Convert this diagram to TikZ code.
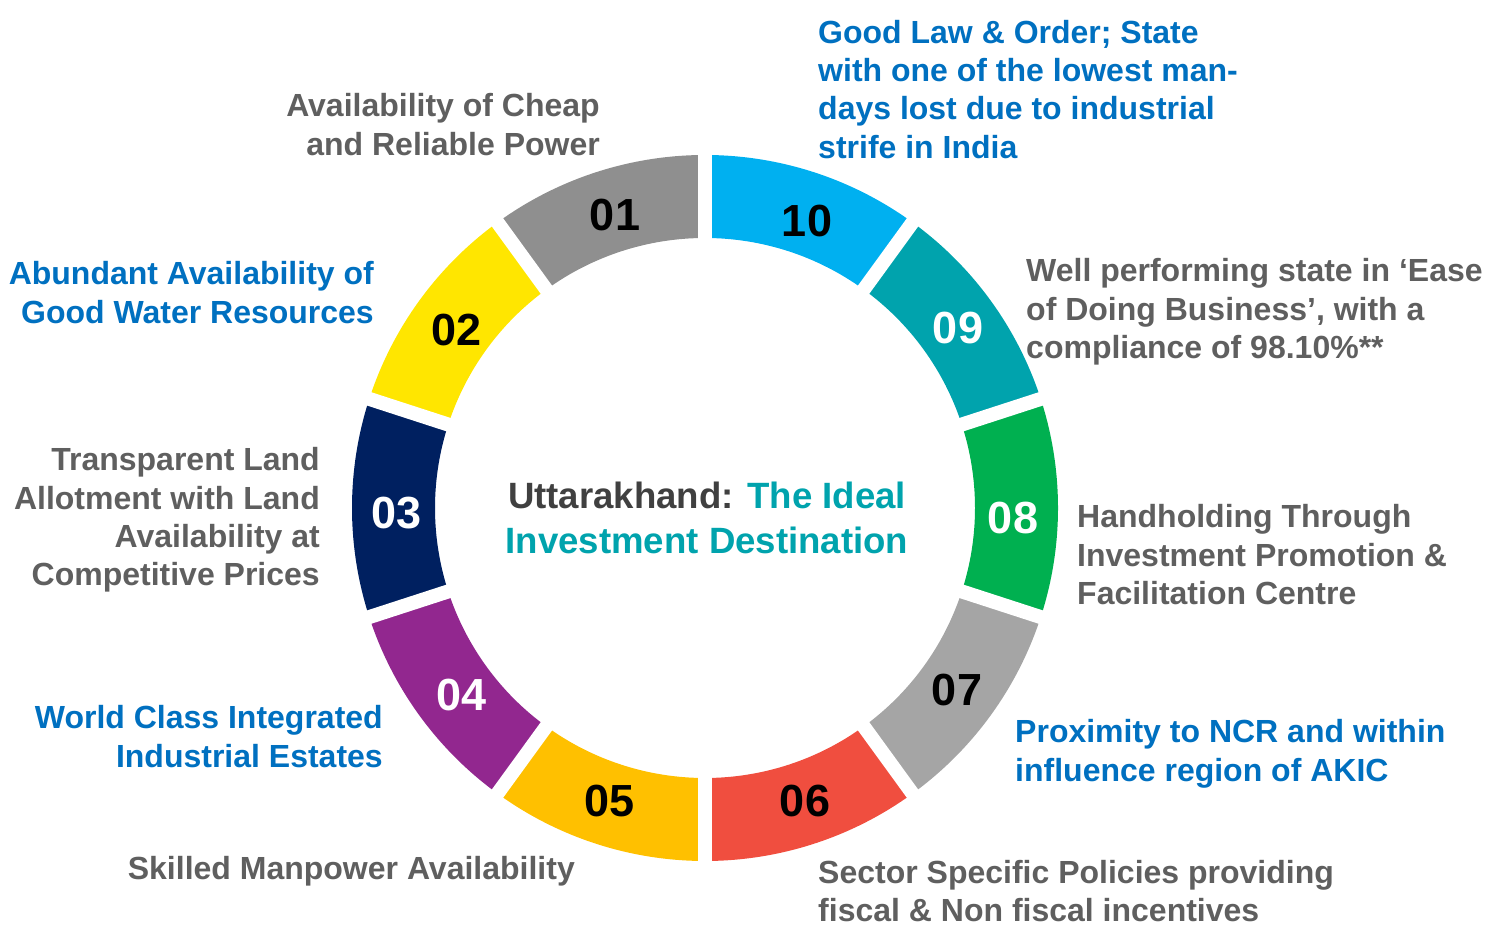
\documentclass[tikz,border=0pt]{standalone}
\usepackage{fontspec}
\setmainfont{Liberation Sans}
\definecolor{c01}{HTML}{8F8F8F}
\definecolor{c02}{HTML}{FFE600}
\definecolor{c03}{HTML}{002060}
\definecolor{c04}{HTML}{92278F}
\definecolor{c05}{HTML}{FFC000}
\definecolor{c06}{HTML}{F04E3F}
\definecolor{c07}{HTML}{A5A5A5}
\definecolor{c08}{HTML}{00B050}
\definecolor{c09}{HTML}{00A3AD}
\definecolor{c10}{HTML}{00B0F0}
\definecolor{labgray}{HTML}{5F5F5F}
\definecolor{labblue}{HTML}{0070C0}
\definecolor{cdark}{HTML}{404040}
\definecolor{cteal}{HTML}{00A3AD}
\newcommand\ringseg[3]{\fill[#3] (#1:353) arc[start angle=#1,end angle=#2,radius=353] -- (#2:270) arc[start angle=#2,end angle=#1,radius=270] -- cycle;}
\begin{document}
\begin{tikzpicture}[x=1pt,y=1pt,
  num/.style={font=\fontsize{45}{45}\selectfont\bfseries, inner sep=0pt},
  lab/.style={font=\fontsize{32}{38.3}\selectfont\bfseries, inner sep=0pt},
  labr/.style={lab, align=right, anchor=base east},
  labl/.style={lab, align=left, anchor=base west},
  gapline/.style={white, line width=14pt}]
\useasboundingbox (0,0) rectangle (1486,925);
\begin{scope}[shift={(705,417)}]
\ringseg{90}{126}{c01}
\ringseg{126}{162}{c02}
\ringseg{162}{198}{c03}
\ringseg{198}{234}{c04}
\ringseg{234}{270}{c05}
\ringseg{270}{306}{c06}
\ringseg{306}{342}{c07}
\ringseg{-18}{18}{c08}
\ringseg{18}{54}{c09}
\ringseg{54}{90}{c10}
\foreach \a in {90,54,18,-18,-54} {\draw[gapline] (\a:362) -- (\a+180:362);}
\end{scope}
% numbers
\node[num, text=black] (n01) at (615,710) {01};
\node[num, text=black] (n10) at (807,703.5) {10};
\node[num, text=white] (n09) at (958,597) {09};
\node[num, text=white] (n08) at (1013,407) {08};
\node[num, text=black] (n07) at (957,235) {07};
\node[num, text=black] (n06) at (805,124) {06};
\node[num, text=black] (n05) at (610,124) {05};
\node[num, text=white] (n04) at (462,230) {04};
\node[num, text=white] (n03) at (396.5,412) {03};
\node[num, text=black] (n02) at (457,595) {02};
% labels (anchor = baseline of last line)
\node[labr, text=labgray] (l01) at (600,769.7) {Availability of Cheap\\and Reliable Power};
\node[labl, text=labblue] (l10) at (818,766.9) {Good Law \& Order; State\\with one of the lowest man-\\days lost due to industrial\\strife in India};
\node[labl, text=labgray] (l09) at (1026,566.4) {Well performing state in ‘Ease\\of Doing Business’, with a\\compliance of 98.10\%**};
\node[labr, text=labblue] (l02) at (374,601.7) {Abundant Availability of\\Good Water Resources};
\node[labr, text=labgray] (l03) at (320,339.1) {Transparent Land\\Allotment with Land\\Availability at\\Competitive Prices};
\node[labl, text=labgray] (l08) at (1077,320.4) {Handholding Through\\Investment Promotion \&\\Facilitation Centre};
\node[labr, text=labblue] (l04) at (383,157.7) {World Class Integrated\\Industrial Estates};
\node[labl, text=labblue] (l07) at (1015,143.7) {Proximity to NCR and within\\influence region of AKIC};
\node[labr, text=labgray] (l05) at (575,45) {Skilled Manpower Availability};
\node[labl, text=labgray] (l06) at (818,3.2) {Sector Specific Policies providing\\fiscal \& Non fiscal incentives};
% centre
\node[font=\fontsize{36.6}{45}\selectfont\bfseries, inner sep=0pt, align=center, anchor=base] (ctr) at (707,371) {\textcolor{cdark}{Uttarakhand:} \textcolor{cteal}{The Ideal}\\\textcolor{cteal}{Investment Destination}};
\end{tikzpicture}
\end{document}
